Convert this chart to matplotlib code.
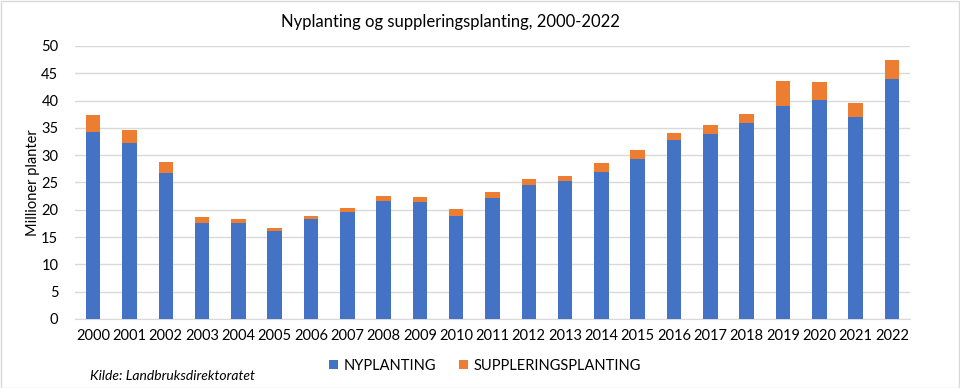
import matplotlib
matplotlib.use("Agg")
import matplotlib.pyplot as plt
from matplotlib.patches import Rectangle

years = [str(y) for y in range(2000, 2023)]
nyplanting = [34.3, 32.3, 26.8, 17.6, 17.6, 16.1, 18.3, 19.6, 21.7, 21.4, 18.9,
              22.1, 24.5, 25.2, 26.9, 29.3, 32.7, 33.8, 35.9, 39.0, 40.2, 37.0, 44.0]
totals = [37.3, 34.6, 28.7, 18.7, 18.3, 16.7, 18.9, 20.4, 22.5, 22.3, 20.2,
          23.2, 25.7, 26.2, 28.5, 30.9, 34.1, 35.6, 37.6, 43.5, 43.4, 39.6, 47.4]
supplering = [round(t - n, 2) for t, n in zip(totals, nyplanting)]
yticks = list(range(0, 51, 5))

plt.rcParams['font.family'] = ['Lato', 'DejaVu Sans']

fig = plt.figure(figsize=(9.6, 3.88), dpi=100)
ax = fig.add_axes([75/960, 1 - 319/388, (910-75)/960, (319-46)/388])

x = list(range(len(years)))
blue = '#4472C4'
orange = '#ED7D31'
b1 = ax.bar(x, nyplanting, width=0.4, color=blue, label='NYPLANTING', zorder=3)
b2 = ax.bar(x, supplering, width=0.4, bottom=nyplanting, color=orange,
            label='SUPPLERINGSPLANTING', zorder=3)

ax.set_xlim(-0.5, len(years) - 0.5)
ax.set_ylim(0, 50)
ax.set_yticks(yticks)
ax.set_xticks(x)
ax.set_xticklabels(years)
ax.tick_params(axis='both', length=0, labelsize=10.5, colors='#000000', pad=7)
ax.tick_params(axis='y', pad=12)
ax.grid(axis='y', color='#d9d9d9', linewidth=1, zorder=0)
for s in ['top', 'right', 'left']:
    ax.spines[s].set_visible(False)
ax.spines['bottom'].set_color('#d9d9d9')

ax.set_ylabel('Millioner planter', fontsize=10.5, va='center')
ax.yaxis.set_label_coords((33 - 75) / 835, 0.5)

fig.text(450/960, 1 - 22/388, 'Nyplanting og suppleringsplanting, 2000-2022',
         ha='center', va='center', fontsize=12)

leg = fig.legend(handles=[b1, b2], loc='center', bbox_to_anchor=(485/960, 1 - 366/388),
                 ncol=2, frameon=False, fontsize=10.5, handlelength=0.6, handleheight=0.6,
                 columnspacing=1.6, handletextpad=0.4)

fig.text(90/960, 1 - 376/388, 'Kilde: Landbruksdirektoratet', style='italic',
         fontsize=10, ha='left', va='center')

fig.patches.append(Rectangle((0.5/960, 0.5/388), 1 - 1.5/960, 1 - 1.5/388,
                             transform=fig.transFigure, fill=False,
                             edgecolor='#d9d9d9', linewidth=1))

fig.savefig('out.png', dpi=100)
